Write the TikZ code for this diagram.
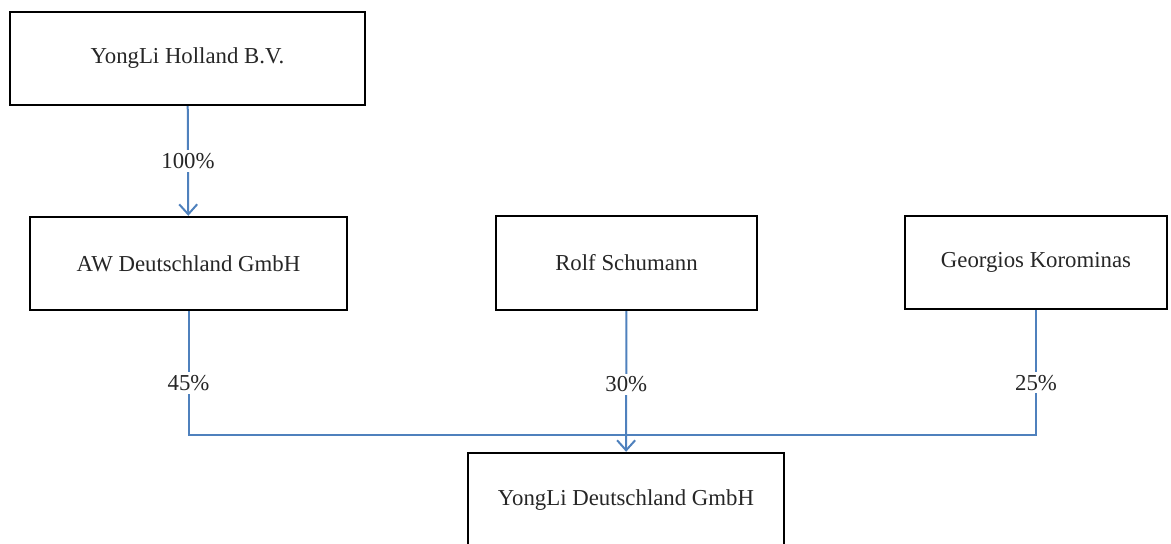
\documentclass[tikz,border=0pt]{standalone}
\usepackage{fontspec}
\setmainfont{Liberation Serif}
\usepackage{tikz}
\usetikzlibrary{arrows.meta}
\definecolor{linkblue}{RGB}{79,129,189}
\tikzstyle{entity}=[draw, line width=1.2pt, inner sep=0pt, font=\fontsize{11.4}{13}\selectfont, text=black!85]
\tikzstyle{share}=[draw=linkblue, line width=1pt]
\tikzstyle{pct}=[fill=white, inner sep=1.5pt, font=\fontsize{11.4}{13}\selectfont, text=black!85]

\begin{document}
\begin{tikzpicture}[x=0.5pt, y=-0.5pt]
        \useasboundingbox (0, 0) rectangle (1171, 544);
        \node[entity, minimum width=177.5pt, minimum height=46.5pt] (Holland) at (187.5, 58.5) {YongLi Holland B.V.};
        \node[entity, minimum width=158.5pt, minimum height=46.5pt] (AWD) at (188.5, 263.5) {AW Deutschland GmbH};
        \node[entity, minimum width=130.5pt, minimum height=47pt] (Rolf) at (626.5, 263) {Rolf Schumann};
        \node[entity, minimum width=131pt, minimum height=46.5pt] (Georg) at (1036, 262.5) {Georgios Korominas};
        \node[entity, minimum width=158pt, minimum height=47pt] (YLD) at (626, 500) {YongLi Deutschland GmbH};
        \coordinate (bus) at (626, 435);
        \draw[share, -{Straight Barb[length=5pt, width=9pt]}] (Holland) -- node[pct, pos=0.5] {100\%} (AWD);
        \draw[share] (AWD) -- node[pct, pos=0.58] {45\%} (AWD |- bus) -- (bus);
        \draw[share] (Georg) -- node[pct, pos=0.58] {25\%} (Georg |- bus) -- (bus);
        \draw[share, -{Straight Barb[length=5pt, width=9pt]}] (Rolf) -- node[pct, pos=0.52] {30\%} (YLD);
    \end{tikzpicture}
\end{document}
